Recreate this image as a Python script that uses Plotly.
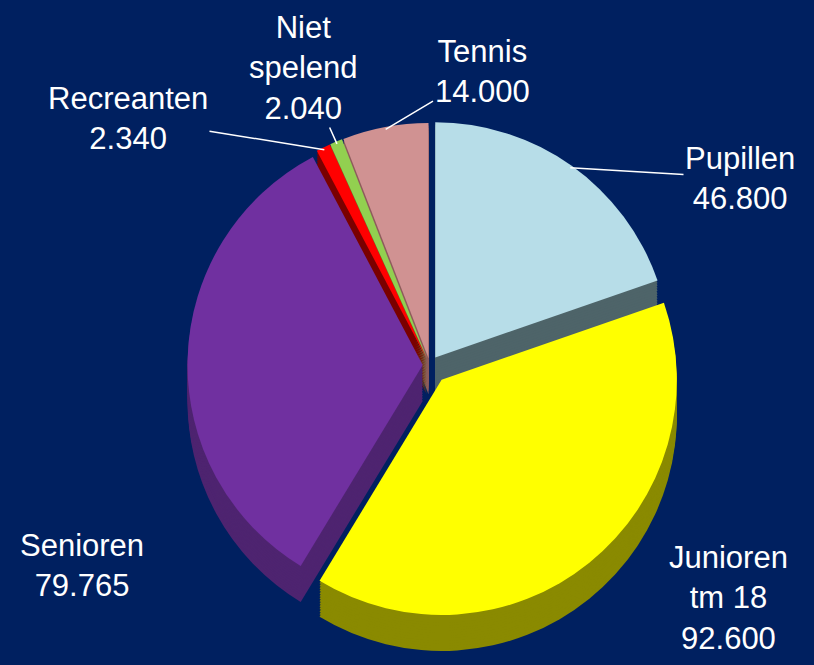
import math
import plotly.graph_objects as go

# ---- data ----
labels = ["Pupillen", "Junioren<br>tm 18", "Senioren", "Recreanten", "Niet<br>spelend", "Tennis"]
values = [46800, 92600, 79765, 2340, 2040, 14000]

# ---- styles / layout ----
top_colors = ["#B7DDE8", "#FFFF00", "#7030A0", "#FF0000", "#92D050", "#D09292"]
side_colors = ["#4E6469", "#8A8A00", "#4E2470", "#7A0000", "#5A8030", "#8E5C5C"]
pulls = [0.04, 0.08, 0.03, 0.03, 0.03, 0.03]
# label block centres (px from top-left) and whether a leader line is drawn
label_pos = [(740, 178), (728, 598), (82, 565), (128, 118), (303, 68), (482, 72)]
leader = [True, False, False, True, True, True]

BG = "#002060"
FONT = "Liberation Sans Narrow, Liberation Sans, Arial, sans-serif"
FSIZE = 31
W, H = 814, 665

dom_x = [0.056, 1.0]
dom_y = [0.069, 0.833]
depth_px = 36
layers = 14

fig = go.Figure()

# side walls (stacked darker copies shifted downward)
for i in range(layers, 0, -1):
    off = depth_px * i / layers / H
    fig.add_trace(go.Pie(
        labels=labels, values=values, sort=False, direction="clockwise", rotation=0,
        pull=pulls, marker=dict(colors=side_colors, line=dict(width=0)),
        textposition="none", hoverinfo="skip", showlegend=False,
        domain=dict(x=dom_x, y=[dom_y[0] - off, dom_y[1] - off]),
    ))

# top surface
fig.add_trace(go.Pie(
    labels=labels, values=values, sort=False, direction="clockwise", rotation=0,
    pull=pulls, marker=dict(colors=top_colors, line=dict(width=0)),
    textposition="none", showlegend=False,
    hovertemplate="%{label}: %{value:,}<extra></extra>",
    domain=dict(x=dom_x, y=dom_y),
))

# geometry of the pie as plotly lays it out (for leader-line tips)
box_w = W * (dom_x[1] - dom_x[0])
box_h = H * (dom_y[1] - dom_y[0])
r = min(box_w, box_h) / (2 + 2 * max(pulls))
cx = W * (dom_x[0] + dom_x[1]) / 2
cy = H * (1 - (dom_y[0] + dom_y[1]) / 2)
total = sum(values)

cum = 0.0
for lab, v, p, (lx, ly), ld in zip(labels, values, pulls, label_pos, leader):
    mid = (cum + v / 2) / total * 2 * math.pi
    cum += v
    sx, sy = math.sin(mid), -math.cos(mid)
    tip_r = r * (1 + p) * 0.99
    tx, ty = cx + tip_r * sx, cy + tip_r * sy
    txt = f"{lab}<br>{v:,}".replace(",", ".")
    font = dict(family=FONT, size=FSIZE, color="white")
    if ld:
        fig.add_annotation(
            x=tx / W, y=1 - ty / H, xref="paper", yref="paper",
            ax=lx - tx, ay=ly - ty, axref="pixel", ayref="pixel",
            text=txt, showarrow=True, arrowhead=0, arrowwidth=1.5, arrowcolor="white",
            font=font, align="center",
        )
    else:
        fig.add_annotation(
            x=lx / W, y=1 - ly / H, xref="paper", yref="paper",
            xanchor="center", yanchor="middle",
            text=txt, showarrow=False, font=font, align="center",
        )

fig.update_layout(
    width=W, height=H,
    paper_bgcolor=BG, plot_bgcolor=BG,
    margin=dict(l=0, r=0, t=0, b=0),
    separators=",.",
    showlegend=False,
)

fig.write_html(
    "out.html",
    config={"displayModeBar": False},
    post_script="document.body.style.margin='0';document.body.style.background='#002060';",
)
